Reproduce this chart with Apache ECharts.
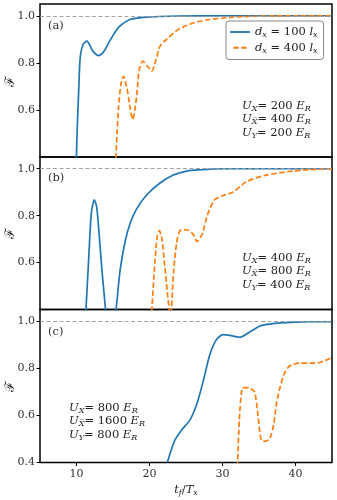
<!DOCTYPE html>
<html>
<head>
<meta charset="utf-8">
<script src="https://cdn.jsdelivr.net/npm/echarts@6/dist/echarts.min.js"></script>
<style>
  html, body { margin: 0; padding: 0; background: #fff; }
  #chart { width: 337px; height: 500px; }
</style>
</head>
<body>
<div id="chart"></div>
<script>
/* 数据 */
const xTicks = [10, 20, 30, 40];
const yTicks = [0.6, 0.8, 1.0];
const yTicksBottom = [0.4, 0.6, 0.8, 1.0];

// panel (a)
const aBlueX = [9.95, 10.1, 10.3, 10.5, 10.9, 11.44, 12.1, 12.6, 13.0, 13.45, 13.93, 14.5, 15.07, 15.6, 16.2, 17.35, 19.2, 21.4, 24, 30, 45];
const aBlueY = [0.36, 0.52, 0.68, 0.82, 0.878, 0.892, 0.857, 0.838, 0.831, 0.838, 0.857, 0.89, 0.92, 0.945, 0.963, 0.984, 0.993, 0.997, 0.999, 1.0, 1.0];
const aOrangeX = [15.35, 15.55, 15.75, 16.08, 16.43, 16.9, 17.35, 17.7, 18.0, 18.26, 18.6, 19.08, 19.7, 20.3, 20.9, 21.44, 22.35, 23.94, 26, 28, 31.4, 35, 40, 45];
const aOrangeY = [0.36, 0.5, 0.608, 0.708, 0.743, 0.694, 0.608, 0.559, 0.6, 0.665, 0.771, 0.807, 0.786, 0.765, 0.814, 0.871, 0.90, 0.942, 0.969, 0.983, 0.994, 0.998, 1.0, 1.0];

// panel (b)
const bBlueX = [11.25, 11.4, 11.66, 12.03, 12.43, 12.75, 13.02, 13.48, 13.8, 14.05, 14.7, 15.38, 15.98, 16.66, 17.35, 18.26, 19.6, 21.4, 23.25, 25.1, 26.66, 30, 35, 45];
const bBlueY = [0.37, 0.46, 0.61, 0.81, 0.867, 0.84, 0.753, 0.569, 0.46, 0.38, 0.25, 0.39, 0.569, 0.69, 0.768, 0.83, 0.888, 0.938, 0.973, 0.99, 0.995, 1.0, 1.0, 1.0];
const bOrangeX = [20.3, 20.76, 21.05, 21.35, 21.7, 22.1, 22.45, 22.7, 22.85, 23.0, 23.3, 23.7, 24.17, 25.1, 26.0, 26.5, 27.2, 27.9, 28.9, 30.0, 31.4, 33.3, 36, 39.6, 42, 45];
const bOrangeY = [0.39, 0.61, 0.71, 0.736, 0.70, 0.583, 0.47, 0.4, 0.36, 0.4, 0.56, 0.68, 0.736, 0.74, 0.72, 0.69, 0.72, 0.80, 0.867, 0.885, 0.90, 0.945, 0.973, 0.99, 0.996, 1.0];

// panel (c)
const cBlueX = [22.44, 23.0, 23.48, 24.4, 25.53, 26.45, 27.35, 28.26, 29.17, 30.07, 31.0, 32.35, 33.5, 35.08, 36.45, 38, 40, 42, 45];
const cBlueY = [0.4, 0.455, 0.495, 0.538, 0.58, 0.645, 0.744, 0.858, 0.922, 0.943, 0.94, 0.932, 0.95, 0.979, 0.988, 0.993, 0.996, 0.998, 0.998];
const cOrangeX = [32.05, 32.3, 32.72, 33.2, 33.7, 34.4, 34.85, 35.3, 35.75, 36.45, 37.0, 37.4, 37.8, 38.5, 39.2, 40.5, 42, 43.3, 44.2, 45];
const cOrangeY = [0.38, 0.58, 0.716, 0.718, 0.716, 0.70, 0.60, 0.495, 0.49, 0.50, 0.56, 0.65, 0.71, 0.78, 0.81, 0.822, 0.822, 0.825, 0.835, 0.846];

const panelLabels = ["(a)", "(b)", "(c)"];
const uX = [200, 400, 800];
const uXbar = [400, 800, 1600];
const uY = [200, 400, 800];

const BLUE = "#1f77b4", ORANGE = "#ff7f0e";
const SERIF = "'DejaVu Serif', 'Liberation Serif', serif";

const zip = (xs, ys) => xs.map((x, i) => [x, ys[i]]);

const grids = [
  {left: 40, right: 5, top: 4, height: 153},
  {left: 40, right: 5, top: 157, height: 152.5},
  {left: 40, right: 5, top: 309.5, height: 153}
].map(g => Object.assign(g, {show: true, containLabel: false, outerBoundsMode: "none",
  borderColor: "#000", borderWidth: 1.5, backgroundColor: "transparent"}));

const mathRich = {
  i: {fontFamily: SERIF, fontStyle: "italic", fontSize: 11.5, color: "#222", lineHeight: 13.5, verticalAlign: "middle"},
  n: {fontFamily: SERIF, fontSize: 11.5, color: "#222", lineHeight: 13.5, verticalAlign: "middle"},
  s: {fontFamily: SERIF, fontStyle: "italic", fontSize: 8, color: "#222", lineHeight: 9, verticalAlign: "bottom"}
};

const xAxes = [0, 1, 2].map(k => ({
  type: "value", gridIndex: k, min: 5, max: 45,
  axisLine: {show: false},
  splitLine: {show: false},
  axisTick: {show: k === 2, inside: false, length: 3.5, lineStyle: {color: "#000"}, customValues: xTicks},
  axisLabel: {show: k === 2, margin: 6, fontFamily: SERIF, fontSize: 11, color: "#333", customValues: xTicks},
  name: k === 2 ? "{i|t}{s|f}{n|/}{i|T}{s|x}" : "",
  nameLocation: "middle", nameGap: 21,
  nameTextStyle: {rich: mathRich}
}));

const yAxes = [0, 1, 2].map(k => {
  const ticks = k === 2 ? yTicksBottom : yTicks;
  return {
    type: "value", gridIndex: k, min: 0.4, max: 1.05,
    axisLine: {show: false},
    splitLine: {show: false},
    axisTick: {show: true, inside: false, length: 3.5, lineStyle: {color: "#000"}, customValues: ticks},
    axisLabel: {margin: 5, fontFamily: SERIF, fontSize: 11, color: "#333", customValues: ticks,
      formatter: v => v.toFixed(1)}
  };
});

const LBL_BLUE = "d_x = 100 l_x";
const LBL_ORANGE = "d_x = 400 l_x";

function lineSeries(k, name, xs, ys, color, dashed, withRef) {
  const s = {
    type: "line", name, xAxisIndex: k, yAxisIndex: k,
    data: zip(xs, ys), showSymbol: false, symbol: "none",
    smooth: 0.25, clip: true, z: dashed ? 4 : 3,
    lineStyle: {color, width: 1.7, type: dashed ? [5.5, 2.5] : "solid"},
    itemStyle: {color}
  };
  if (withRef) {
    s.markLine = {
      silent: true, symbol: "none", label: {show: false},
      lineStyle: {color: "#999", width: 0.9, type: [4, 2.5]},
      data: [{yAxis: 1.0}]
    };
  }
  return s;
}

const series = [
  lineSeries(0, LBL_BLUE, aBlueX, aBlueY, BLUE, false, true),
  lineSeries(0, LBL_ORANGE, aOrangeX, aOrangeY, ORANGE, true, false),
  lineSeries(1, LBL_BLUE, bBlueX, bBlueY, BLUE, false, true),
  lineSeries(1, LBL_ORANGE, bOrangeX, bOrangeY, ORANGE, true, false),
  lineSeries(2, LBL_BLUE, cBlueX, cBlueY, BLUE, false, true),
  lineSeries(2, LBL_ORANGE, cOrangeX, cOrangeY, ORANGE, true, false)
];

function annot(k) {
  return "{i|U}{s|X}{n|= " + uX[k] + " }{i|E}{s|R}\n" +
         "{i|U}{s|X\u0305}{n|= " + uXbar[k] + " }{i|E}{s|R}\n" +
         "{i|U}{s|Y}{n|= " + uY[k] + " }{i|E}{s|R}";
}
const annotPos = [[242, 100], [242, 252], [69, 402]];
const labelPos = [[48, 20], [48, 172], [48, 326]];
const nameY = [81, 233, 386];

const graphic = [];
[0, 1, 2].forEach(k => {
  graphic.push({
    type: "text", left: annotPos[k][0], top: annotPos[k][1], z: 10,
    style: {text: annot(k), rich: mathRich, fill: "#222"}
  });
  graphic.push({
    type: "text", left: labelPos[k][0], top: labelPos[k][1], z: 10,
    style: {text: panelLabels[k], font: "11.5px " + SERIF, fill: "#333"}
  });
  graphic.push({
    type: "text", x: 11, y: nameY[k], rotation: Math.PI / 2, z: 10,
    style: {text: "ℱ", font: "13px " + SERIF, fill: "#222", align: "center", verticalAlign: "middle"}
  });
});

const chart = echarts.init(document.getElementById("chart"), null, {renderer: "canvas"});
chart.setOption({
  animation: false,
  backgroundColor: "#fff",
  grid: grids,
  xAxis: xAxes,
  yAxis: yAxes,
  legend: {
    data: [
      {name: LBL_BLUE, icon: "rect", itemStyle: {color: BLUE}},
      {name: LBL_ORANGE, icon: "path://M0,0h6v2h-6z M8.5,0h6v2h-6z", itemStyle: {color: ORANGE}}
    ],
    orient: "vertical", left: 226, top: 21,
    padding: [5, 6, 5, 4], itemGap: 3, itemWidth: 20, itemHeight: 1.8,
    backgroundColor: "#fff",
    borderColor: "#888", borderWidth: 1, borderRadius: 3,
    formatter: n => n === LBL_BLUE ? "{i|d}{s|x}{n| = 100 }{i|l}{s|x}" : "{i|d}{s|x}{n| = 400 }{i|l}{s|x}",
    textStyle: {rich: mathRich}
  },
  series,
  graphic
});
</script>
</body>
</html>
